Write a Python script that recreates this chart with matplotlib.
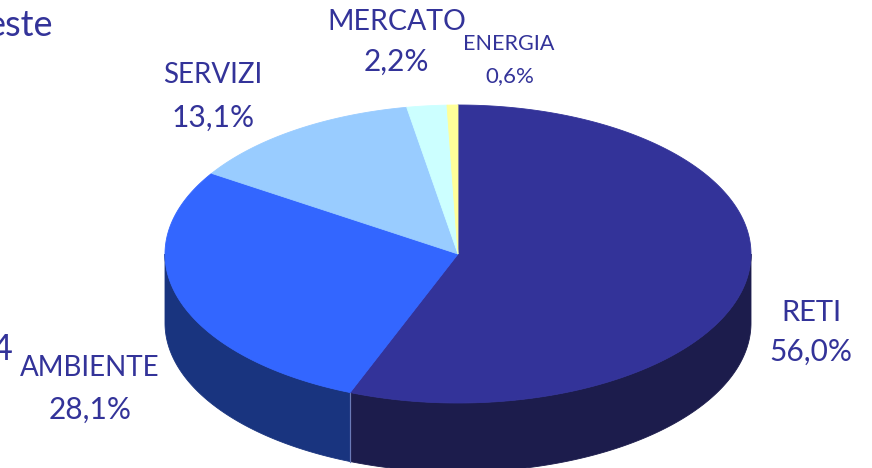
import numpy as np
import matplotlib
matplotlib.use("Agg")
import matplotlib.pyplot as plt
from matplotlib.patches import Polygon

# ---- data ----
categories = ["RETI", "AMBIENTE", "SERVIZI", "MERCATO", "ENERGIA"]
values = [56.0, 28.1, 13.1, 2.2, 0.6]
value_labels = ["56,0%", "28,1%", "13,1%", "2,2%", "0,6%"]
top_colors = ["#333399", "#3366FF", "#99CCFF", "#CCFFFF", "#FFFF99"]
side_colors = ["#1C1C4C", "#19347F", "#4D6680", "#668080", "#80804D"]
text_color = "#333399"

# ---- layout ----
W, H = 872, 468
fig = plt.figure(figsize=(W / 100, H / 100), dpi=100)
ax = fig.add_axes([0, 0, 1, 1])
ax.set_xlim(0, W)
ax.set_ylim(H, 0)
ax.axis("off")

cx, cy, a, b, depth = 458, 254, 293, 149, 69
start = 90.0  # degrees, slices go clockwise

def pt(theta_deg, dy=0.0):
    t = np.radians(theta_deg)
    return cx + a * np.cos(t), cy - b * np.sin(t) + dy

total = sum(values)
bounds = []
ang = start
for v in values:
    sweep = 360.0 * v / total
    bounds.append((ang - sweep, ang))
    ang -= sweep

# sides (front half: angles in (180, 360) mod 360)
for (t1, t2), sc in zip(bounds, side_colors):
    for shift in (-360, 0, 360):
        lo = max(t1 + shift, 180)
        hi = min(t2 + shift, 360)
        if hi > lo:
            ts = np.linspace(lo, hi, 200)
            top = [pt(t) for t in ts]
            bot = [pt(t, depth) for t in ts[::-1]]
            ax.add_patch(Polygon(top + bot, closed=True, facecolor=sc,
                                 edgecolor=sc, linewidth=0.6, zorder=1))

# light seam between front side faces
for (t1, t2) in bounds:
    for t in (t1, t2):
        tt = t % 360
        if 180 < tt < 360:
            x0, y0 = pt(tt)
            x1, y1 = pt(tt, depth)
            ax.plot([x0, x1], [y0, y1], color="#6A7AB8", lw=0.8, zorder=2)

# top face
for (t1, t2), tc in zip(bounds, top_colors):
    ts = np.linspace(t1, t2, 300)
    poly = [(cx, cy)] + [pt(t) for t in ts]
    ax.add_patch(Polygon(poly, closed=True, facecolor=tc, edgecolor=tc,
                         linewidth=0.6, zorder=3))

font = ["Lato", "DejaVu Sans"]
label_pos = {
    "RETI": ((811, 313), (811, 352), 21, 21.5),
    "AMBIENTE": ((90, 368), (90, 410), 20, 21.5),
    "SERVIZI": ((213, 75), (213, 118), 20, 21.5),
    "MERCATO": ((397, 22), (396, 62), 20.5, 21.5),
    "ENERGIA": ((509, 44), (510, 76), 15.5, 16),
}
for name, vl in zip(categories, value_labels):
    (nx, ny), (vx, vy), ns, vs = label_pos[name]
    ax.text(nx, ny, name, ha="center", va="center", fontsize=ns,
            color=text_color, family=font, zorder=5)
    ax.text(vx, vy, vl, ha="center", va="center", fontsize=vs,
            color=text_color, family=font, zorder=5)

# cut-off fragments of surrounding slide text (cut at the edge as in the original)
ax.text(53, 26, "este", ha="right", va="center", fontsize=26,
        color=text_color, family=font, zorder=5)
ax.text(13, 350, "4", ha="right", va="center", fontsize=26,
        color=text_color, family=font, zorder=5)

fig.savefig("out.png", dpi=100)
